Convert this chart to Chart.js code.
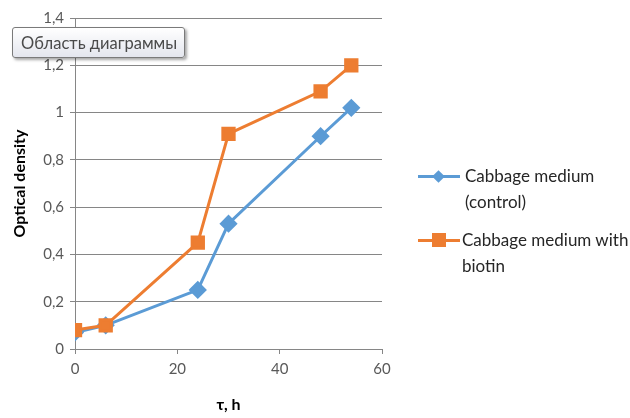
<!DOCTYPE html>
<html>
<head>
<meta charset="utf-8">
<script src="https://cdn.jsdelivr.net/npm/chart.js@4"></script>
<style>
    body { margin: 0; background: #fff; font-family: Lato, "Open Sans", sans-serif; }
    #wrap { position: relative; width: 630px; height: 418px; }
    #chart { position: absolute; left: 0; top: 0; }
    .legend-item { position: absolute; left: 418px; font-size: 17px; color: #262626; line-height: 26px; }
    .legend-line { position: absolute; left: 0; width: 42px; height: 3px; }
    .legend-mark { position: absolute; }
    .legend-text { position: absolute; left: 44px; white-space: nowrap; }
    #tip {
        position: absolute; left: 12px; top: 27px; width: 173px; height: 31px;
        border: 1px solid #7a7a7a; border-radius: 3px;
        background: linear-gradient(#ffffff, #e4e6ee);
        box-shadow: 2px 2px 3px rgba(0,0,0,0.35);
        font-size: 16.5px; color: #4a4a4a; line-height: 30px; padding-left: 8px; box-sizing: border-box;
        white-space: nowrap;
    }
</style>
</head>
<body>
<div id="wrap">
    <canvas id="chart" width="630" height="418"></canvas>
    <div class="legend-item" style="top:163px">
        <div class="legend-line" style="top:12px;background:#5b9bd5"></div>
        <div class="legend-mark" style="left:16px;top:9px;width:9px;height:9px;background:#5b9bd5;transform:rotate(45deg)"></div>
        <div class="legend-text" style="left:47px">Cabbage medium<br>(control)</div>
    </div>
    <div class="legend-item" style="top:227px">
        <div class="legend-line" style="top:12px;background:#ed7d31"></div>
        <div class="legend-mark" style="left:14px;top:6px;width:14px;height:14px;background:#ed7d31"></div>
        <div class="legend-text">Cabbage medium with<br>biotin</div>
    </div>
    <div id="tip">Область диаграммы</div>
</div>
<script>
// данные
const hours = [0, 6, 24, 30, 48, 54];
const controlOD = [0.07, 0.1, 0.25, 0.53, 0.9, 1.02];
const biotinOD = [0.08, 0.1, 0.45, 0.91, 1.09, 1.2];
const seriesNames = ["Cabbage medium (control)", "Cabbage medium with biotin"];

const toPoints = vals => hours.map((h, i) => ({ x: h, y: vals[i] }));
const fmt = v => String(Math.round(v * 10) / 10).replace('.', ',');

const tickFont = { family: "Lato, 'Open Sans', sans-serif", size: 15 };

new Chart(document.getElementById('chart').getContext('2d'), {
    type: 'line',
    data: {
        datasets: [{
            label: seriesNames[0],
            data: toPoints(controlOD),
            borderColor: '#5b9bd5',
            backgroundColor: '#5b9bd5',
            borderWidth: 3,
            pointStyle: 'rectRot',
            pointRadius: 7,
            pointHoverRadius: 7,
            order: 1
        }, {
            label: seriesNames[1],
            data: toPoints(biotinOD),
            borderColor: '#ed7d31',
            backgroundColor: '#ed7d31',
            borderWidth: 3,
            pointStyle: 'rect',
            pointRadius: 8,
            pointHoverRadius: 8,
            order: 0
        }]
    },
    options: {
        responsive: false,
        animation: false,
        layout: { padding: { left: 0, right: 248, top: 18, bottom: 0 } },
        plugins: {
            legend: { display: false },
            tooltip: { enabled: false }
        },
        scales: {
            x: {
                type: 'linear',
                min: 0, max: 60,
                ticks: { stepSize: 20, color: '#595959', font: tickFont, padding: 6 },
                grid: { drawOnChartArea: false, drawTicks: true, tickLength: 5, color: '#868686' },
                border: { color: '#868686' },
                title: { display: true, text: 'τ, h', color: '#000', font: { family: tickFont.family, size: 16, weight: 'bold' }, padding: { top: 13 } },
                afterFit: s => { s.height = 69; }
            },
            y: {
                min: 0, max: 1.4,
                ticks: { stepSize: 0.2, color: '#595959', font: tickFont, padding: 6, callback: v => fmt(v) },
                grid: { color: '#868686', tickLength: 5 },
                border: { color: '#868686' },
                title: { display: true, text: 'Optical density', color: '#000', font: { family: tickFont.family, size: 16, weight: 'bold' }, padding: { top: 10, bottom: 2 } },
                afterFit: s => { s.width = 75; }
            }
        }
    }
});
</script>
</body>
</html>
